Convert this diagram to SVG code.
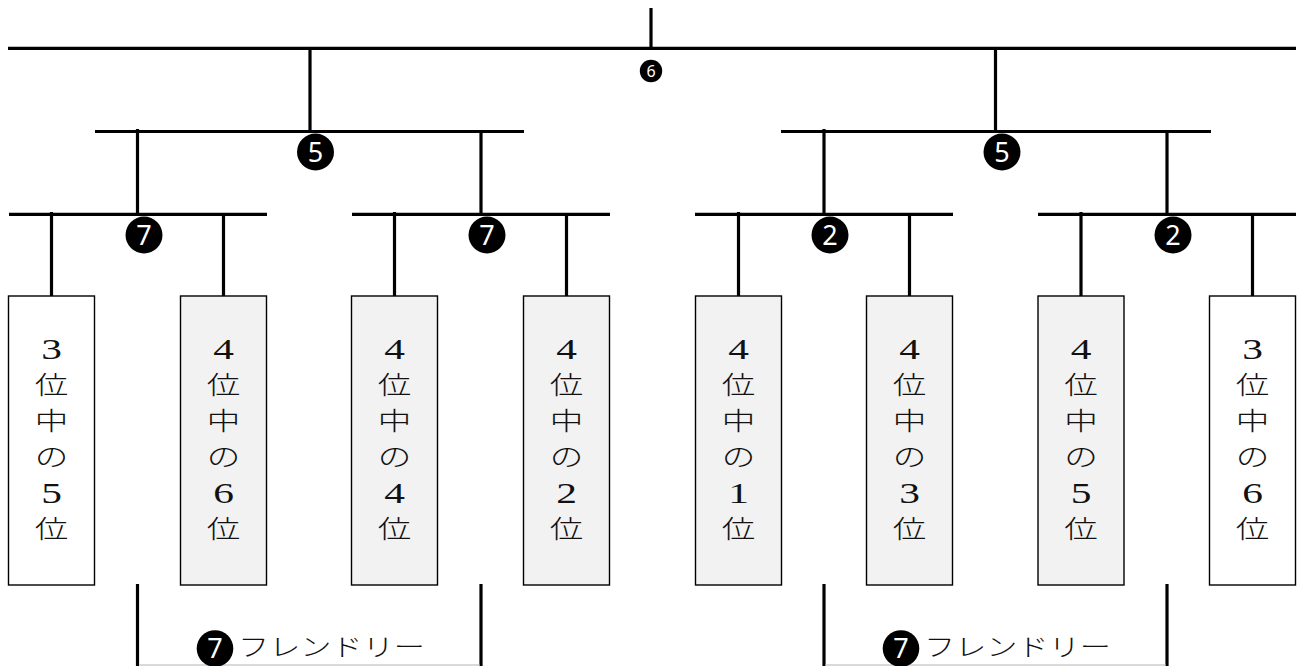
<svg xmlns="http://www.w3.org/2000/svg" width="1302" height="666" viewBox="0 0 1302 666">
<style>
.ln{stroke:#000;stroke-width:3.2;fill:none;stroke-linecap:butt}
.box{stroke:#000;stroke-width:1.4}
.w{fill:#fff}
.g{fill:#f2f2f2}
.v{font-family:"Noto Sans CJK JP","Noto Sans CJK SC",sans-serif;font-size:30px;font-weight:300;text-anchor:middle;fill:#111}
.d{font-family:"Liberation Serif","Noto Sans CJK JP",serif;font-size:37px;font-weight:400}
.bd{fill:#000}
.bt{font-family:"Noto Sans","DejaVu Sans",sans-serif;font-size:27px;fill:#fff;text-anchor:middle}
.bts{font-size:16px}
.lab{font-family:"Noto Sans CJK JP","Noto Sans CJK SC",sans-serif;font-size:30px;font-weight:300;fill:#111}
</style>
<rect x="0" y="0" width="1302" height="666" fill="#fff"/>
<g id="connectors">
<line class="ln" x1="651" y1="8" x2="651" y2="50"/>
<line class="ln" x1="8" y1="48.3" x2="1296" y2="48.3"/>
<line class="ln" x1="310" y1="48" x2="310" y2="131.5"/>
<line class="ln" x1="995.5" y1="48" x2="995.5" y2="131.5"/>
<line class="ln" x1="95" y1="131.5" x2="524" y2="131.5"/>
<line class="ln" x1="781" y1="131.5" x2="1211" y2="131.5"/>
<line class="ln" x1="137.5" y1="129" x2="137.5" y2="214"/>
<line class="ln" x1="481" y1="131" x2="481" y2="214"/>
<line class="ln" x1="824" y1="129" x2="824" y2="214"/>
<line class="ln" x1="1167" y1="131" x2="1167" y2="214"/>
<line class="ln" x1="9" y1="214.3" x2="267" y2="214.3"/>
<line class="ln" x1="352" y1="214.3" x2="610" y2="214.3"/>
<line class="ln" x1="695" y1="214.3" x2="953" y2="214.3"/>
<line class="ln" x1="1038" y1="214.3" x2="1296" y2="214.3"/>
<line class="ln" x1="51.5" y1="212" x2="51.5" y2="296"/>
<line class="ln" x1="223.5" y1="214" x2="223.5" y2="296"/>
<line class="ln" x1="394.5" y1="212" x2="394.5" y2="296"/>
<line class="ln" x1="566.5" y1="214" x2="566.5" y2="296"/>
<line class="ln" x1="738.5" y1="212" x2="738.5" y2="296"/>
<line class="ln" x1="909.5" y1="214" x2="909.5" y2="296"/>
<line class="ln" x1="1081" y1="212" x2="1081" y2="296"/>
<line class="ln" x1="1252.5" y1="214" x2="1252.5" y2="296"/>
</g>
<g id="badges">
<g id="b6"><circle class="bd" cx="651" cy="71" r="11.2"/><text class="bt bts" x="651" y="76.7">6</text></g>
<g id="b5l"><circle class="bd" cx="315.5" cy="152" r="18.5"/><text class="bt" x="315.5" y="161.6">5</text></g>
<g id="b5r"><circle class="bd" cx="1002" cy="152" r="18.5"/><text class="bt" x="1002" y="161.6">5</text></g>
<g id="b7a"><circle class="bd" cx="144" cy="235" r="18.5"/><text class="bt" x="144" y="244.6">7</text></g>
<g id="b7b"><circle class="bd" cx="487" cy="235" r="18.5"/><text class="bt" x="487" y="244.6">7</text></g>
<g id="b2a"><circle class="bd" cx="830" cy="235" r="18.5"/><text class="bt" x="830" y="244.6">2</text></g>
<g id="b2b"><circle class="bd" cx="1173" cy="235" r="18.5"/><text class="bt" x="1173" y="244.6">2</text></g>
</g>
<g id="box1"><rect class="box w" x="8.5" y="296" width="86" height="289"/>
<text class="v" transform="translate(51.5 0) scale(1.12 0.82)"><tspan class="d" x="0" y="437.6">3</tspan><tspan x="0" y="480.3">位</tspan><tspan x="0" y="524.2">中</tspan><tspan x="0" y="568.1">の</tspan><tspan class="d" x="0" y="613.2">5</tspan><tspan x="0" y="655.9">位</tspan></text></g>
<g id="box2"><rect class="box g" x="180.5" y="296" width="86" height="289"/>
<text class="v" transform="translate(223.5 0) scale(1.12 0.82)"><tspan class="d" x="0" y="437.6">4</tspan><tspan x="0" y="480.3">位</tspan><tspan x="0" y="524.2">中</tspan><tspan x="0" y="568.1">の</tspan><tspan class="d" x="0" y="613.2">6</tspan><tspan x="0" y="655.9">位</tspan></text></g>
<g id="box3"><rect class="box g" x="351.5" y="296" width="86" height="289"/>
<text class="v" transform="translate(394.5 0) scale(1.12 0.82)"><tspan class="d" x="0" y="437.6">4</tspan><tspan x="0" y="480.3">位</tspan><tspan x="0" y="524.2">中</tspan><tspan x="0" y="568.1">の</tspan><tspan class="d" x="0" y="613.2">4</tspan><tspan x="0" y="655.9">位</tspan></text></g>
<g id="box4"><rect class="box g" x="523.5" y="296" width="86" height="289"/>
<text class="v" transform="translate(566.5 0) scale(1.12 0.82)"><tspan class="d" x="0" y="437.6">4</tspan><tspan x="0" y="480.3">位</tspan><tspan x="0" y="524.2">中</tspan><tspan x="0" y="568.1">の</tspan><tspan class="d" x="0" y="613.2">2</tspan><tspan x="0" y="655.9">位</tspan></text></g>
<g id="box5"><rect class="box g" x="695.5" y="296" width="86" height="289"/>
<text class="v" transform="translate(738.5 0) scale(1.12 0.82)"><tspan class="d" x="0" y="437.6">4</tspan><tspan x="0" y="480.3">位</tspan><tspan x="0" y="524.2">中</tspan><tspan x="0" y="568.1">の</tspan><tspan class="d" x="0" y="613.2">1</tspan><tspan x="0" y="655.9">位</tspan></text></g>
<g id="box6"><rect class="box g" x="866.5" y="296" width="86" height="289"/>
<text class="v" transform="translate(909.5 0) scale(1.12 0.82)"><tspan class="d" x="0" y="437.6">4</tspan><tspan x="0" y="480.3">位</tspan><tspan x="0" y="524.2">中</tspan><tspan x="0" y="568.1">の</tspan><tspan class="d" x="0" y="613.2">3</tspan><tspan x="0" y="655.9">位</tspan></text></g>
<g id="box7"><rect class="box g" x="1038" y="296" width="86" height="289"/>
<text class="v" transform="translate(1081 0) scale(1.12 0.82)"><tspan class="d" x="0" y="437.6">4</tspan><tspan x="0" y="480.3">位</tspan><tspan x="0" y="524.2">中</tspan><tspan x="0" y="568.1">の</tspan><tspan class="d" x="0" y="613.2">5</tspan><tspan x="0" y="655.9">位</tspan></text></g>
<g id="box8"><rect class="box w" x="1209.5" y="296" width="86" height="289"/>
<text class="v" transform="translate(1252.5 0) scale(1.12 0.82)"><tspan class="d" x="0" y="437.6">3</tspan><tspan x="0" y="480.3">位</tspan><tspan x="0" y="524.2">中</tspan><tspan x="0" y="568.1">の</tspan><tspan class="d" x="0" y="613.2">6</tspan><tspan x="0" y="655.9">位</tspan></text></g>
<g id="bracket-left">
<line class="ln" x1="137.5" y1="584" x2="137.5" y2="666"/>
<line class="ln" x1="481" y1="584" x2="481" y2="666"/>
<line x1="139" y1="665" x2="479.5" y2="665" stroke="#cccccc" stroke-width="1.5"/>
<circle class="bd" cx="215" cy="648.5" r="18.3"/><text class="bt" x="215" y="658.1">7</text>
<text class="lab" transform="translate(238 655.9) scale(1 0.82)" textLength="187" lengthAdjust="spacingAndGlyphs">フレンドリー</text>
</g>
<g id="bracket-right">
<line class="ln" x1="824" y1="584" x2="824" y2="666"/>
<line class="ln" x1="1167" y1="584" x2="1167" y2="666"/>
<line x1="825.5" y1="665" x2="1165.5" y2="665" stroke="#cccccc" stroke-width="1.5"/>
<circle class="bd" cx="901" cy="648.5" r="18.3"/><text class="bt" x="901" y="658.1">7</text>
<text class="lab" transform="translate(924 655.9) scale(1 0.82)" textLength="187" lengthAdjust="spacingAndGlyphs">フレンドリー</text>
</g>
</svg>
